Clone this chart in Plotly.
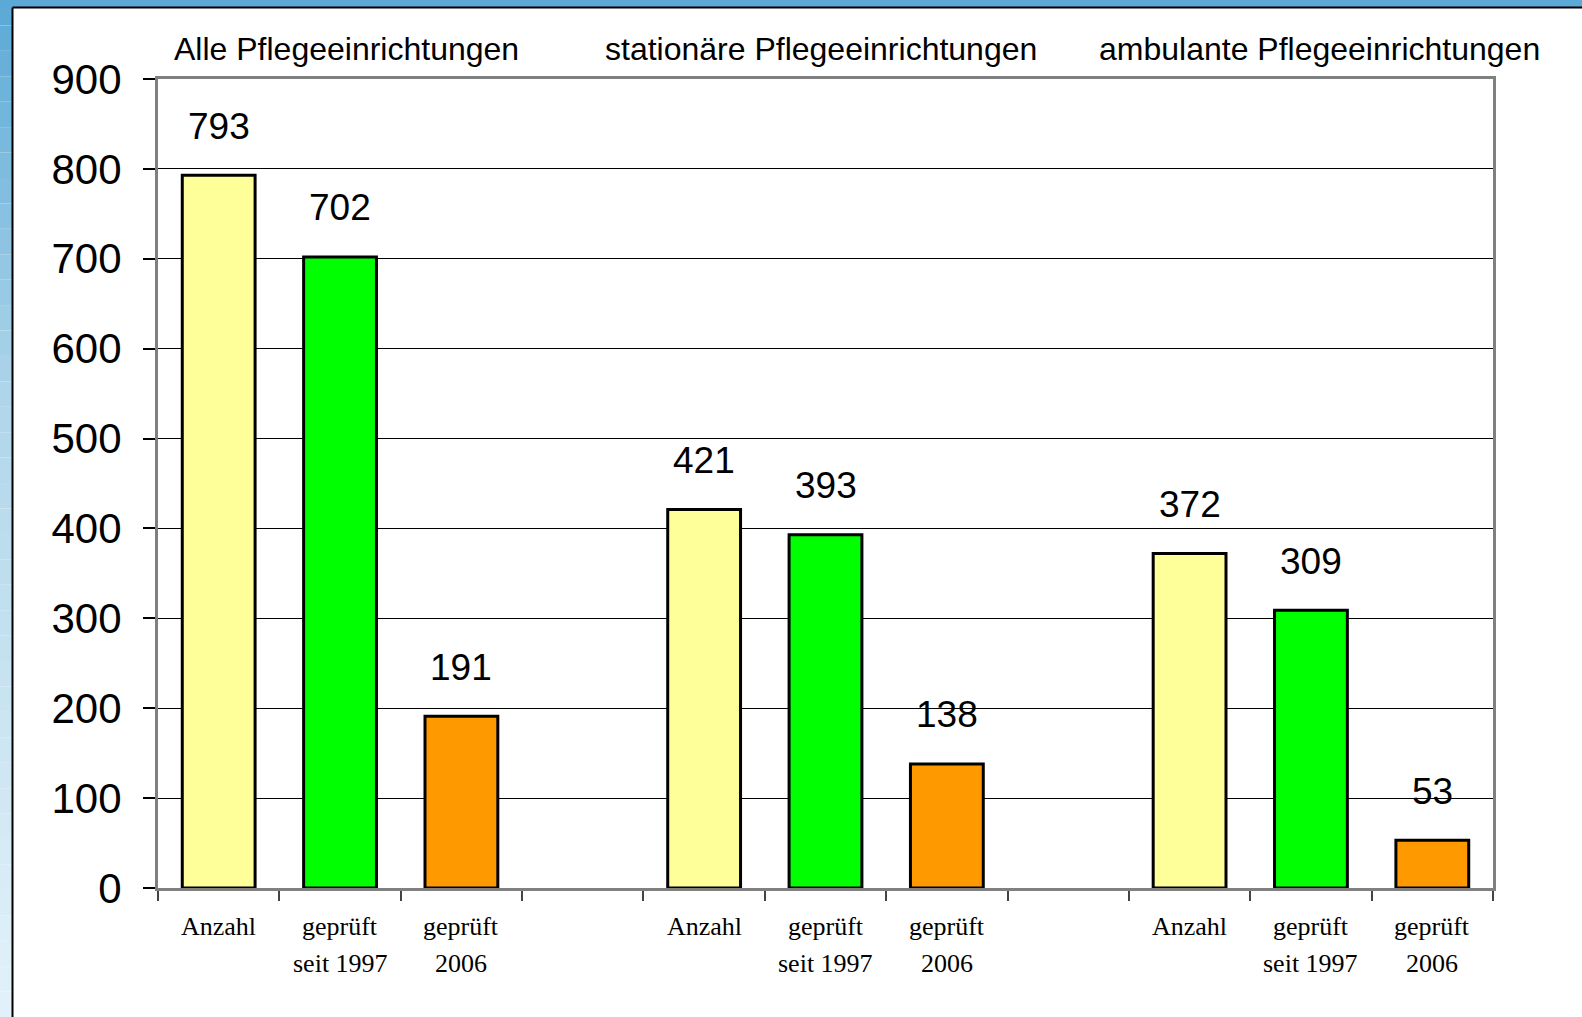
import plotly.graph_objects as go

# ---- data ----
groups = ["Alle Pflegeeinrichtungen", "stationäre Pflegeeinrichtungen", "ambulante Pflegeeinrichtungen"]
measures_line1 = ["Anzahl", "geprüft", "geprüft"]
measures_line2 = ["", "seit 1997", "2006"]
values_alle = [793, 702, 191]
values_stationaer = [421, 393, 138]
values_ambulant = [372, 309, 53]
bar_colors = ["#FFFF99", "#00FF00", "#FF9900"]
y_ticks = [0, 100, 200, 300, 400, 500, 600, 700, 800, 900]

# ---- geometry ----
W, H = 1582, 1017
ML, MR, MT, MB = 158, 89, 79, 129
PW, PH = W - ML - MR, H - MT - MB
title_xshift = [6, -5, 9]


def px_x(px):
    return (px - ML) / PW


def px_y(py):
    return 1 - (py - MT) / PH


all_values = [values_alle, values_stationaer, values_ambulant]
fig = go.Figure()

positions = []
vals = []
cols = []
for g, gv in enumerate(all_values):
    for i, v in enumerate(gv):
        positions.append(g * 4 + i)
        vals.append(v)
        cols.append(bar_colors[i])

fig.add_trace(go.Bar(
    x=positions, y=vals, width=0.6,
    marker=dict(color=cols, line=dict(color="black", width=3)),
    hoverinfo="x+y", showlegend=False,
))

annotations = []
# value labels
for p, v in zip(positions, vals):
    annotations.append(dict(x=p, y=v, xref="x", yref="y", text=str(v), showarrow=False,
                            yanchor="middle", yshift=49,
                            font=dict(family="Liberation Sans, Arial", size=37, color="black")))
# category labels (two lines)
for g in range(3):
    for i in range(3):
        p = g * 4 + i
        annotations.append(dict(x=p, y=px_y(926), xref="x", yref="paper", text=measures_line1[i],
                                showarrow=False, yanchor="middle",
                                font=dict(family="Liberation Serif, Times New Roman", size=26, color="black")))
        if measures_line2[i]:
            annotations.append(dict(x=p, y=px_y(963), xref="x", yref="paper", text=measures_line2[i],
                                    showarrow=False, yanchor="middle",
                                    font=dict(family="Liberation Serif, Times New Roman", size=26, color="black")))
# group titles
for g, name in enumerate(groups):
    annotations.append(dict(x=g * 4 + 1, y=px_y(49), xref="x", yref="paper", text=name,
                            showarrow=False, yanchor="middle", xshift=title_xshift[g],
                            font=dict(family="Liberation Sans, Arial", size=32, color="black")))

# ---- frame decoration ----
shapes = []
stops = [(0, (90, 169, 214)), (400, (176, 214, 234)), (1017, (227, 242, 249))]


def color_at(y):
    for (y0, c0), (y1, c1) in zip(stops[:-1], stops[1:]):
        if y0 <= y <= y1:
            t = (y - y0) / (y1 - y0)
            return "rgb(%d,%d,%d)" % tuple(round(a + (b - a) * t) for a, b in zip(c0, c1))
    return "rgb(%d,%d,%d)" % stops[-1][1]


n = 40
for k in range(n):
    y0 = k * H / n
    y1 = (k + 1) * H / n
    shapes.append(dict(type="rect", xref="paper", yref="paper", layer="below",
                       x0=px_x(0), x1=px_x(12), y0=px_y(y1), y1=px_y(y0),
                       fillcolor=color_at((y0 + y1) / 2), line=dict(width=0)))
shapes.append(dict(type="rect", xref="paper", yref="paper", layer="below",
                   x0=px_x(0), x1=px_x(W), y0=px_y(7.5), y1=px_y(0),
                   fillcolor="rgb(90,169,214)", line=dict(width=0)))
shapes.append(dict(type="line", xref="paper", yref="paper", layer="below",
                   x0=px_x(12.5), x1=px_x(12.5), y0=px_y(H), y1=px_y(7.5),
                   line=dict(color="black", width=2)))
shapes.append(dict(type="line", xref="paper", yref="paper", layer="below",
                   x0=px_x(12.5), x1=px_x(W), y0=px_y(7.5), y1=px_y(7.5),
                   line=dict(color="black", width=2)))

fig.update_layout(
    width=W, height=H,
    margin=dict(l=ML, r=MR, t=MT, b=MB, autoexpand=False),
    paper_bgcolor="white", plot_bgcolor="white",
    annotations=annotations, shapes=shapes,
    bargap=0.4,
    xaxis=dict(range=[-0.5, 10.5], tickmode="array",
               tickvals=[k - 0.5 for k in range(12)], showticklabels=False,
               ticks="outside", ticklen=10, tickwidth=1.5, tickcolor="#444",
               showgrid=False, zeroline=False,
               showline=True, linecolor="#808080", linewidth=3, mirror=True),
    yaxis=dict(range=[0, 900], tickmode="array", tickvals=y_ticks,
               ticktext=[str(t) for t in y_ticks],
               ticks="outside", ticklen=12, tickwidth=1.5, tickcolor="black",
               ticklabelstandoff=13,
               tickfont=dict(family="Liberation Sans, Arial", size=42, color="black"),
               showgrid=True, gridcolor="black", gridwidth=1.2, zeroline=False,
               showline=True, linecolor="#808080", linewidth=3, mirror=True),
)

fig.write_html("out.html", config={"displayModeBar": False},
               post_script="document.body.style.margin='0';document.body.style.overflow='hidden';")
